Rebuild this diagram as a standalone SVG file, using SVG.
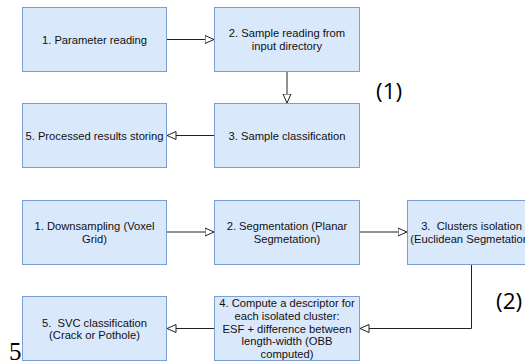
<svg xmlns="http://www.w3.org/2000/svg" width="525" height="362" viewBox="0 0 525 362">
<defs>
<style>
.box{fill:#dae8fc;stroke:#7c9fd3;stroke-width:1}
.t{font-family:"Liberation Sans",Arial,sans-serif;font-size:11.2px;fill:#111;text-anchor:middle;white-space:pre}
.lab{font-family:"Open Sans",sans-serif;font-size:22.5px;fill:#000}
.c{fill:none;stroke:#222;stroke-width:1}
</style>
<marker id="ah" viewBox="0 0 10 10" refX="9.5" refY="5" markerWidth="10" markerHeight="10" markerUnits="userSpaceOnUse" orient="auto">
<path d="M0.5,1 L9.5,5 L0.5,9 Z" fill="#fff" stroke="#222" stroke-width="1"/>
</marker>
</defs>
<rect width="525" height="362" fill="#fff"/>
<g id="connectors">
<path class="c" d="M166.5,39.5 H214" marker-end="url(#ah)"/>
<path class="c" d="M287,71.5 V103" marker-end="url(#ah)"/>
<path class="c" d="M214.5,135.5 H167" marker-end="url(#ah)"/>
<path class="c" d="M166.5,232 H214" marker-end="url(#ah)"/>
<path class="c" d="M359.5,232 H407" marker-end="url(#ah)"/>
<path class="c" d="M471.5,264.5 V328.5 H360" marker-end="url(#ah)"/>
<path class="c" d="M214.5,328.5 H167" marker-end="url(#ah)"/>
</g>
<g id="n1"><rect class="box" x="22.5" y="7.5" width="144" height="64"/><text class="t" x="94.5" y="43.5">1. Parameter reading</text></g>
<g id="n2"><rect class="box" x="214.5" y="7.5" width="145" height="64"/><text class="t" x="287" y="37">2. Sample reading from</text><text class="t" x="287" y="50.3">input directory</text></g>
<g id="n3"><rect class="box" x="214.5" y="103.5" width="145" height="64"/><text class="t" x="287" y="139.5">3. Sample classification</text></g>
<g id="n5"><rect class="box" x="22.5" y="103.5" width="144" height="64"/><text class="t" x="94.5" y="139.5">5. Processed results storing</text></g>
<text class="lab" x="376" y="99">(1)</text>
<g id="m1"><rect class="box" x="22.5" y="200.5" width="144" height="64"/><text class="t" x="94.5" y="229.7">1. Downsampling (Voxel</text><text class="t" x="94.5" y="243">Grid)</text></g>
<g id="m2"><rect class="box" x="214.5" y="200.5" width="145" height="64"/><text class="t" x="287" y="229.7">2. Segmentation (Planar</text><text class="t" x="287" y="243">Segmetation)</text></g>
<g id="m3"><rect class="box" x="407.5" y="200.5" width="128" height="64"/><text class="t" x="471.5" y="229.7">3.  Clusters isolation</text><text class="t" x="471.5" y="243">(Euclidean Segmetation)</text></g>
<g id="m4"><rect class="box" x="214.5" y="296.5" width="145" height="64"/><text class="t" x="287" y="307.3">4. Compute a descriptor for</text><text class="t" x="287" y="320">each isolated cluster:</text><text class="t" x="287" y="332.7">ESF + difference between</text><text class="t" x="287" y="345.3">length-width (OBB</text><text class="t" x="287" y="358">computed)</text></g>
<g id="m5"><rect class="box" x="22.5" y="296.5" width="144" height="64"/><text class="t" x="94.5" y="326.5">5.  SVC classification</text><text class="t" x="94.5" y="339.2">(Crack or Pothole)</text></g>
<text class="lab" x="496" y="308.5">(2)</text>
<text x="9" y="360" style="font-family:'Liberation Serif','Times New Roman',serif;font-size:25px;fill:#000">5</text>
</svg>
